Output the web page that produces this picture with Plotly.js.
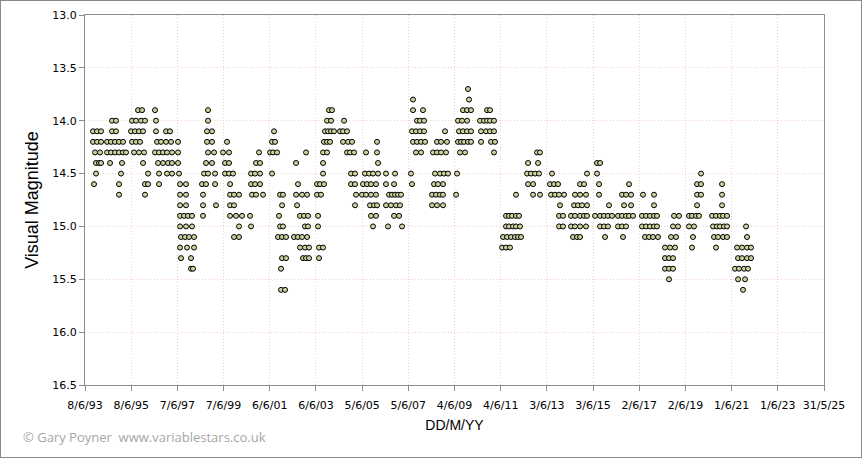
<!DOCTYPE html>
<html><head><meta charset="utf-8">
<script src="https://cdn.plot.ly/plotly-3.0.1.min.js"></script>
<style>html,body{margin:0;padding:0;background:#fff;}#chart{width:862px;height:458px;box-sizing:border-box;border:1px solid #8a8a8a;}</style>
</head><body><div id="chart"></div><script>
// Observation dates as reduced Julian Date (JD - 2400000) and visual magnitudes
const jd = [
49273,49337,49400, 49273,49337,49400, 49305,49384, 49321,49368,49400, 49321, 49289,
49574,49637, 49574,49637, 49495,49558,49621,49684,49748, 49495,49558,49621,49684,49748,49795, 49542,49732, 49716, 49684, 49684,
49985,50048, 49890,49953,50032,50095, 49874,49937,50000,50064, 49890,49953,50016, 49921,50000,50080, 50064, 50143, 50095,50143, 50095,
50253, 50269, 50269,50427,50490, 50285,50348,50427,50506, 50253,50317,50380,50443,50522, 50301,50380,50459,50522, 50317,50443,50522, 50317,
50617, 50617, 50617, 50633, 50649,50743, 50649,50743, 50649,50743, 50649,50712,50775,50838, 50649,50743,50838, 50664,50728,50791,50870, 50649,50759,50870, 50664,50822, 50822,50854,
51091, 51091, 51075,51154, 51075,51154, 51091,51186, 51059,51154, 51028,51091,51202, 50996,51059,51202, 51012, 51012,51217, 51012,
51391, 51328,51423, 51360,51423, 51360,51423,51486, 51439, 51439,51502,51581, 51439,51502, 51439,51534,51628, 51581, 51502,51581,
51897, 51850,51913, 51771,51834,51913, 51771,51834,51913, 51786,51850,51960, 51755, 51771,
52134, 52103,52150, 52071,52118,52182, 52103, 52229,52276, 52261, 52213, 52229,52276, 52197,52261,52324, 52261,52324, 52245, 52245,52308,
52640, 52482, 52513, 52482,52577,52656, 52498, 52545,52608,52672, 52624,52672, 52450,52513,52577,52656, 52545,52624,52687, 52592,52640,52687,
53003,53051, 52972,53035, 52940,52988,53035,53082, 52924,52972,53019, 52909,52972, 52909, 52909, 52814,52861,52924, 52814,52877, 52830, 52830, 52845,52909, 52845,
53241, 53177,53225,53288, 53225,53304,53367, 53288,53335,53399, 53351,53414, 53351,53414, 53430, 53414,
53762, 53588,53762, 53778, 53572,53636,53699,53778, 53541,53604,53667,53746, 53525,53588,53667,53746, 53651,53715,53762, 53667,53746, 53699,
53904,54047, 53904,54031, 53952,53999,54047,54094,54141, 53904,53983,54062,54126, 54031,54110, 53936,54157,
54331, 54331,54489, 54394,54442,54505, 54315,54378,54442,54505, 54331,54394,54458,54521, 54378,54458, 54299, 54315,
54837, 54710,54774,54868, 54647,54710,54774,54853, 54679,54758,54821,54884, 54663,54726,54805, 54631,54695,54758,54805, 54631,54710,54805,
55200, 55216, 55121,55185,55248, 55042,55106,55185, 55058,55121,55185,55248, 55042,55090,55137,55200,55248, 55074,55153, 55027, 55011,
55501,55548, 55390,55453,55501,55548,55611, 55406,55485,55548,55611, 55406,55564,55627, 55611,
55959, 55801,55848,55896,55959,56006, 55801,55848,55912,55959,56022, 55754,55817,55880,55943,55991,56038, 55738,55801,55864,
56291,56338, 56149,56307, 56133,56196,56259,56323, 56149,56228, 56228,56338,
56528, 56496,56560,56623, 56512,56575,56639,56718, 56654, 56639,56702, 56639,56702,
57081, 56971,57034, 56891,56971,57065, 56876,56939,57002,57081, 56828,56891,56971,57034,57081, 56828,56891,56971,57065, 56860,56923,56971,
57239,57287, 57239, 57271, 57271, 57429, 57208,57287,57350,57413,57476, 57287,57350,57413, 57366,
57745, 57634,57698,57777, 57666,57777, 57571,57634,57698,57745,57808, 57571,57634,57698, 57650,
57966,58140, 58140, 57950,58014,58077,58140,58187, 57950,58014,58077,58140,58187, 57998,58061,58124,58203,
58456,58535, 58440,58519, 58409,58488, 58314,58393,58472, 58314,58377,58440, 58314,58377,58440, 58377,
58883, 58820,58883, 58820,58883, 58820, 58693,58741,58804,58851, 58693,58772, 58756, 58741,
59215, 59215, 59215, 59057,59120,59183,59231,59294, 59073,59136,59183,59246,59294, 59088,59152,59231,59294, 59120,
59594, 59610, 59452,59531,59610,59673, 59468,59531,59610,59673, 59420,59484,59563,59626, 59468,59578, 59547
];
const mag = [
14.1,14.1,14.1, 14.2,14.2,14.2, 14.3,14.3, 14.4,14.4,14.4, 14.5, 14.6,
14.0,14.0, 14.1,14.1, 14.2,14.2,14.2,14.2,14.2, 14.3,14.3,14.3,14.3,14.3,14.3, 14.4,14.4, 14.5, 14.6, 14.7,
13.9,13.9, 14.0,14.0,14.0,14.0, 14.1,14.1,14.1,14.1, 14.2,14.2,14.2, 14.3,14.3,14.3, 14.4, 14.5, 14.6,14.6, 14.7,
13.9, 14.0, 14.1,14.1,14.1, 14.2,14.2,14.2,14.2, 14.3,14.3,14.3,14.3,14.3, 14.4,14.4,14.4,14.4, 14.5,14.5,14.5, 14.6,
14.2, 14.3, 14.4, 14.5, 14.6,14.6, 14.7,14.7, 14.8,14.8, 14.9,14.9,14.9,14.9, 15.0,15.0,15.0, 15.1,15.1,15.1,15.1, 15.2,15.2,15.2, 15.3,15.3, 15.4,15.4,
13.9, 14.0, 14.1,14.1, 14.2,14.2, 14.3,14.3, 14.4,14.4, 14.5,14.5,14.5, 14.6,14.6,14.6, 14.7, 14.8,14.8, 14.9,
14.2, 14.3,14.3, 14.4,14.4, 14.5,14.5,14.5, 14.6, 14.7,14.7,14.7, 14.8,14.8, 14.9,14.9,14.9, 15.0, 15.1,15.1,
14.3, 14.4,14.4, 14.5,14.5,14.5, 14.6,14.6,14.6, 14.7,14.7,14.7, 14.9, 15.0,
14.1, 14.2,14.2, 14.3,14.3,14.3, 14.5, 14.7,14.7, 14.8, 14.9, 15.0,15.0, 15.1,15.1,15.1, 15.3,15.3, 15.4, 15.6,15.6,
14.3, 14.4, 14.6, 14.7,14.7,14.7, 14.8, 14.9,14.9,14.9, 15.0,15.0, 15.1,15.1,15.1,15.1, 15.2,15.2,15.2, 15.3,15.3,15.3,
13.9,13.9, 14.0,14.0, 14.1,14.1,14.1,14.1, 14.2,14.2,14.2, 14.3,14.3, 14.4, 14.5, 14.6,14.6,14.6, 14.7,14.7, 14.9, 15.0, 15.2,15.2, 15.3,
14.0, 14.1,14.1,14.1, 14.2,14.2,14.2, 14.3,14.3,14.3, 14.5,14.5, 14.6,14.6, 14.7, 14.8,
14.2, 14.3,14.3, 14.4, 14.5,14.5,14.5,14.5, 14.6,14.6,14.6,14.6, 14.7,14.7,14.7,14.7, 14.8,14.8,14.8, 14.9,14.9, 15.0,
14.5,14.5, 14.6,14.6, 14.7,14.7,14.7,14.7,14.7, 14.8,14.8,14.8,14.8, 14.9,14.9, 15.0,15.0,
13.8, 13.9,13.9, 14.0,14.0,14.0, 14.1,14.1,14.1,14.1, 14.2,14.2,14.2,14.2, 14.3,14.3, 14.5, 14.6,
14.1, 14.2,14.2,14.2, 14.3,14.3,14.3,14.3, 14.5,14.5,14.5,14.5, 14.6,14.6,14.6, 14.7,14.7,14.7,14.7, 14.8,14.8,14.8,
13.7, 13.8, 13.9,13.9,13.9, 14.0,14.0,14.0, 14.1,14.1,14.1,14.1, 14.2,14.2,14.2,14.2,14.2, 14.3,14.3, 14.5, 14.7,
13.9,13.9, 14.0,14.0,14.0,14.0,14.0, 14.1,14.1,14.1,14.1, 14.2,14.2,14.2, 14.3,
14.7, 14.9,14.9,14.9,14.9,14.9, 15.0,15.0,15.0,15.0,15.0, 15.1,15.1,15.1,15.1,15.1,15.1, 15.2,15.2,15.2,
14.3,14.3, 14.4,14.4, 14.5,14.5,14.5,14.5, 14.6,14.6, 14.7,14.7,
14.5, 14.6,14.6,14.6, 14.7,14.7,14.7,14.7, 14.8, 14.9,14.9, 15.0,15.0,
14.5, 14.6,14.6, 14.7,14.7,14.7, 14.8,14.8,14.8,14.8, 14.9,14.9,14.9,14.9,14.9, 15.0,15.0,15.0,15.0, 15.1,15.1,15.1,
14.4,14.4, 14.5, 14.6, 14.7, 14.8, 14.9,14.9,14.9,14.9,14.9, 15.0,15.0,15.0, 15.1,
14.6, 14.7,14.7,14.7, 14.8,14.8, 14.9,14.9,14.9,14.9,14.9, 15.0,15.0,15.0, 15.1,
14.7,14.7, 14.8, 14.9,14.9,14.9,14.9,14.9, 15.0,15.0,15.0,15.0,15.0, 15.1,15.1,15.1,15.1,
14.9,14.9, 15.0,15.0, 15.1,15.1, 15.2,15.2,15.2, 15.3,15.3,15.3, 15.4,15.4,15.4, 15.5,
14.5, 14.6,14.6, 14.7,14.7, 14.8, 14.9,14.9,14.9,14.9, 15.0,15.0, 15.1, 15.2,
14.6, 14.7, 14.8, 14.9,14.9,14.9,14.9,14.9, 15.0,15.0,15.0,15.0,15.0, 15.1,15.1,15.1,15.1, 15.2,
15.0, 15.1, 15.2,15.2,15.2,15.2, 15.3,15.3,15.3,15.3, 15.4,15.4,15.4,15.4, 15.5,15.5, 15.6
];
const tickDates = ['1993-06-08','1995-06-08','1997-06-07','1999-06-07','2001-06-06','2003-06-06','2005-06-05','2007-06-05','2009-06-04','2011-06-04','2013-06-03','2015-06-03','2017-06-02','2019-06-02','2021-06-01','2023-06-01','2025-05-31'];
const tickLabels = ['8/6/93','8/6/95','7/6/97','7/6/99','6/6/01','6/6/03','5/6/05','5/6/07','4/6/09','4/6/11','3/6/13','3/6/15','2/6/17','2/6/19','1/6/21','1/6/23','31/5/25'];
const magTicks = [13.0,13.5,14.0,14.5,15.0,15.5,16.0,16.5];
const magTickLabels = ['13.0','13.5','14.0','14.5','15.0','15.5','16.0','16.5'];

function rjdToDate(r){
  const d = new Date((r + 2400000 - 2440587.5) * 86400000);
  return d.toISOString().replace('T',' ').replace('Z','');
}
const dates = jd.map(rjdToDate);

const trace = {
  x: dates, y: mag, type: 'scatter', mode: 'markers',
  marker: {size: 5, color: '#cdd19e', line: {color: '#000', width: 1}},
  hoverinfo: 'x+y'
};
const axisCol = '#8c8c8c';
const gridCol = '#f4cccc';
const layout = {
  width: 860, height: 456,
  margin: {l: 84, r: 37, t: 14, b: 72},
  paper_bgcolor: '#fff', plot_bgcolor: '#fff',
  showlegend: false,
  xaxis: {
    type: 'date', range: ['1993-06-08', '2025-05-31'],
    tickmode: 'array', tickvals: tickDates, ticktext: tickLabels,
    showgrid: true, gridcolor: gridCol, griddash: '1px,2px', gridwidth: 1,
    showline: true, linecolor: axisCol, linewidth: 1, mirror: true,
    ticks: 'outside', ticklen: 5, tickcolor: axisCol, tickwidth: 1,
    ticklabelstandoff: 5,
    tickfont: {family: 'DejaVu Sans', size: 11, color: '#000'},
    zeroline: false,
    title: {text: 'DD/M/YY', font: {family: 'Liberation Sans', size: 14, color: '#000'}, standoff: 8}
  },
  yaxis: {
    range: [16.5, 13.0],
    tickmode: 'array', tickvals: magTicks, ticktext: magTickLabels,
    showgrid: true, gridcolor: gridCol, griddash: '1px,2px', gridwidth: 1,
    showline: true, linecolor: axisCol, linewidth: 1, mirror: true,
    ticks: 'outside', ticklen: 5, tickcolor: axisCol, tickwidth: 1,
    tickfont: {family: 'DejaVu Sans', size: 11, color: '#000'},
    zeroline: false,
    title: {text: 'Visual Magnitude', font: {family: 'Liberation Sans', size: 18, color: '#000'}, standoff: 8}
  },
  annotations: [{
    text: '© Gary Poyner  www.variablestars.co.uk',
    xref: 'paper', yref: 'paper', x: -0.0866, y: -0.1405,
    xanchor: 'left', yanchor: 'middle', showarrow: false,
    font: {family: 'Open Sans', size: 13, color: '#a6a6a6'}
  }]
};
Plotly.newPlot('chart', [trace], layout, {displayModeBar: false, staticPlot: true});
</script></body></html>
